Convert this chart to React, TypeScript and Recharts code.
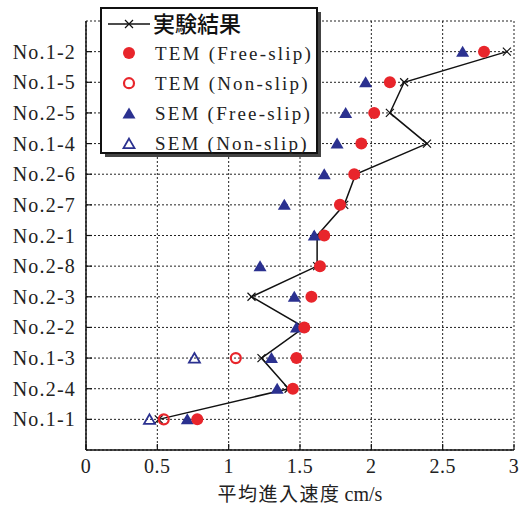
import React from 'react';
import { ScatterChart, Scatter, XAxis, YAxis, CartesianGrid } from 'recharts';

const categories = ['No.1-2', 'No.1-5', 'No.2-5', 'No.1-4', 'No.2-6', 'No.2-7', 'No.2-1', 'No.2-8', 'No.2-3', 'No.2-2', 'No.1-3', 'No.2-4', 'No.1-1'];
const experiment = [2.95, 2.23, 2.13, 2.39, 1.89, 1.81, 1.62, 1.62, 1.16, 1.53, 1.23, 1.42, 0.51];
const temFree = [2.79, 2.13, 2.02, 1.93, 1.88, 1.78, 1.67, 1.64, 1.58, 1.53, 1.475, 1.45, 0.78];
const temNon: (number | null)[] = [null, null, null, null, null, null, null, null, null, null, 1.05, null, 0.545];
const semFree = [2.64, 1.96, 1.82, 1.76, 1.67, 1.39, 1.6, 1.22, 1.46, 1.475, 1.3, 1.34, 0.71];
const semNon: (number | null)[] = [null, null, null, null, null, null, null, null, null, null, 0.76, null, 0.445];
const xTicks = [0, 0.5, 1, 1.5, 2, 2.5, 3];

const RED = '#e8252b';
const BLUE = '#2b3190';
const serif: React.CSSProperties = { fontFamily: "'Liberation Serif', serif" };
const jp: React.CSSProperties = { fontFamily: "'Noto Sans CJK JP', sans-serif" };

const yTicks = categories.map((_, i) => i + 1);
const toPoints = (vals: (number | null)[]) =>
  vals.map((v, i) => (v == null ? null : { x: v, y: i + 1 })).filter(Boolean) as { x: number; y: number }[];

const Cross = ({ cx, cy }: any) => (
  <path d={`M${cx - 4},${cy - 4}L${cx + 4},${cy + 4}M${cx - 4},${cy + 4}L${cx + 4},${cy - 4}`} stroke="#111" strokeWidth={1.2} fill="none" />
);
const Dot = ({ cx, cy }: any) => <circle cx={cx} cy={cy} r={6} fill={RED} />;
const OpenDot = ({ cx, cy }: any) => <circle cx={cx} cy={cy} r={5} fill="none" stroke={RED} strokeWidth={2.2} />;
const Tri = ({ cx, cy }: any) => <polygon points={`${cx},${cy - 6} ${cx + 6.5},${cy + 5} ${cx - 6.5},${cy + 5}`} fill={BLUE} />;
const OpenTri = ({ cx, cy }: any) => (
  <polygon points={`${cx},${cy - 5} ${cx + 5.5},${cy + 4.5} ${cx - 5.5},${cy + 4.5}`} fill="none" stroke={BLUE} strokeWidth={1.8} />
);

const LeftTick = ({ x, y, payload }: any) => (
  <g>
    <line x1={x + 10} x2={x + 16} y1={y} y2={y} stroke="#111" strokeWidth={1.2} />
    <text x={x} y={y} dy="0.35em" textAnchor="end" style={serif} fontSize={20} letterSpacing={1.2} fill="#222">
      {categories[payload.value - 1]}
    </text>
  </g>
);
const BottomTick = ({ x, y, payload }: any) => (
  <g>
    <line x1={x} x2={x} y1={y - 8} y2={y - 14} stroke="#111" strokeWidth={1.2} />
    <text x={x} y={y} dy="0.75em" textAnchor="middle" style={serif} fontSize={20} letterSpacing={0.5} fill="#222">
      {payload.value}
    </text>
  </g>
);
const RightTick = ({ x, y }: any) => <line x1={x} x2={x - 6} y1={y} y2={y} stroke="#111" strokeWidth={1.2} />;
const TopTick = ({ x, y }: any) => <line x1={x} x2={x} y1={y} y2={y + 6} stroke="#111" strokeWidth={1.2} />;

const XLabel = ({ viewBox }: any) => (
  <text x={viewBox.x + viewBox.width / 2} y={viewBox.y + 51} textAnchor="middle" fill="#222">
    <tspan style={jp} fontSize={19} letterSpacing={1.5}>平均進入速度</tspan>
    <tspan style={serif} fontSize={20} dx={4}>cm/s</tspan>
  </text>
);

const legendRows = [
  { label: 'TEM (Free-slip)', icon: (cx: number, cy: number) => <Dot cx={cx} cy={cy} /> },
  { label: 'TEM (Non-slip)', icon: (cx: number, cy: number) => <OpenDot cx={cx} cy={cy} /> },
  { label: 'SEM (Free-slip)', icon: (cx: number, cy: number) => <Tri cx={cx} cy={cy} /> },
  { label: 'SEM (Non-slip)', icon: (cx: number, cy: number) => <OpenTri cx={cx} cy={cy} /> },
];

const LegendBox = () => (
  <svg width={524} height={506} style={{ position: 'absolute', left: 0, top: 0, pointerEvents: 'none' }}>
    <rect x={105} y={12} width={216} height={145} fill="#444" />
    <rect x={101} y={8} width={216} height={145} fill="#fff" stroke="#111" strokeWidth={2} />
    <line x1={108} x2={150} y1={24} y2={24} stroke="#111" strokeWidth={1.5} />
    <Cross cx={129} cy={24} />
    <text x={153} y={24} dy="0.36em" style={jp} fontSize={22} fontWeight={500} fill="#111">実験結果</text>
    {legendRows.map((r, i) => {
      const cy = 53 + i * 30.2;
      return (
        <g key={r.label}>
          {r.icon(129, cy)}
          <text x={155} y={cy} dy="0.35em" style={serif} fontSize={19} letterSpacing={2.2} fill="#222">{r.label}</text>
        </g>
      );
    })}
  </svg>
);

export default function App() {
  return (
    <div style={{ position: 'absolute', left: 0, top: 0, width: 524, height: 506, background: '#fff' }}>
      <ScatterChart width={524} height={506} margin={{ top: 21, right: 10, bottom: 0, left: 0 }}>
        <CartesianGrid stroke="#222" strokeDasharray="2 2" strokeWidth={1} />
        <XAxis
          type="number"
          dataKey="x"
          domain={[0, 3]}
          ticks={xTicks}
          height={56}
          tickSize={0}
          tickMargin={8}
          tick={<BottomTick />}
          axisLine={{ stroke: '#111', strokeWidth: 1.5 }}
          label={{ content: XLabel }}
        />
        <XAxis xAxisId="top" orientation="top" type="number" domain={[0, 3]} ticks={xTicks} height={0} tickSize={0} tickMargin={0} tick={<TopTick />} axisLine={{ stroke: '#111', strokeWidth: 1.5 }} />
        <YAxis
          type="number"
          dataKey="y"
          domain={[0, 14]}
          ticks={yTicks}
          reversed
          width={86}
          tickSize={0}
          tickMargin={10}
          tick={<LeftTick />}
          interval={0}
          axisLine={{ stroke: '#111', strokeWidth: 1.5 }}
        />
        <YAxis yAxisId="right" orientation="right" type="number" domain={[0, 14]} ticks={yTicks} reversed width={0} tickSize={0} tickMargin={0} interval={0} tick={<RightTick />} axisLine={{ stroke: '#111', strokeWidth: 1.5 }} />
        <Scatter name="実験結果" data={toPoints(experiment)} line={{ stroke: '#111', strokeWidth: 1.5 }} lineType="joint" shape={<Cross />} isAnimationActive={false} />
        <Scatter name="SEM (Free-slip)" data={toPoints(semFree)} shape={<Tri />} isAnimationActive={false} />
        <Scatter name="SEM (Non-slip)" data={toPoints(semNon)} shape={<OpenTri />} isAnimationActive={false} />
        <Scatter name="TEM (Free-slip)" data={toPoints(temFree)} shape={<Dot />} isAnimationActive={false} />
        <Scatter name="TEM (Non-slip)" data={toPoints(temNon)} shape={<OpenDot />} isAnimationActive={false} />
      </ScatterChart>
      <LegendBox />
    </div>
  );
}
